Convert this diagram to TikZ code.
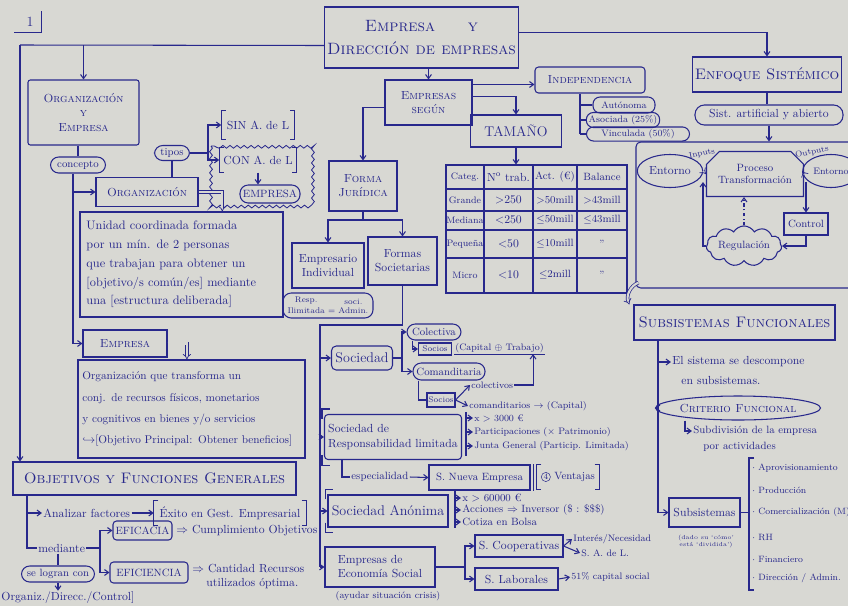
\documentclass[tikz,border=0pt]{standalone}
\usepackage{amsmath,amssymb}
\usepackage{tikz}
\usetikzlibrary{arrows.meta,calc,positioning,shapes.geometric,shapes.misc,shapes.symbols,decorations.pathmorphing}
\usepackage{xcolor}
\definecolor{ink}{RGB}{40,40,140}
\definecolor{paper}{RGB}{216,216,211}

\tikzset{
  caja/.style={draw=ink, text=ink, line width=0.9pt, align=center, inner sep=2pt},
  pill/.style={caja, rounded corners=7pt},
  wh/.style 2 args={minimum width=#1*0.03cm, minimum height=#2*0.03cm},
  nota/.style={text=ink, inner sep=1pt, anchor=west},
  linea/.style={draw=ink, line width=0.9pt},
  flecha/.style={linea, -{Straight Barb[length=3.5pt,width=5pt]}},
  doble/.style={draw=ink, line width=0.6pt, double=paper, double distance=1.8pt, -{Implies}},
}
% square brackets round a node
\newcommand{\corchetes}[1]{%
  \draw[linea] ([xshift=4pt]#1.north west) -- (#1.north west) -- (#1.south west) -- ([xshift=4pt]#1.south west);
  \draw[linea] ([xshift=-4pt]#1.north east) -- (#1.north east) -- (#1.south east) -- ([xshift=-4pt]#1.south east);}
\newcommand{\circulo}[1]{\tikz[baseline=(cc.base)]\node[draw=ink,text=ink,circle,minimum width=0pt,minimum height=0pt,minimum size=0pt,inner sep=0.6pt,font=\scriptsize] (cc) {#1};}

\begin{document}
\begin{tikzpicture}[x=0.03cm, y=-0.03cm]
  \useasboundingbox (0,0) rectangle (848,606);
  \fill[paper] (0,0) rectangle (848,606);
  \clip (0,0) rectangle (848,606);

  % page number
  \node[text=ink, font=\large] (num) at (30,22) {1};
  \draw[linea] ($(num.south west)+(-8,2)$) -| ($(num.north east)+(4,-2)$);

  % title
  \node[caja, wh={187}{61}, font=\fontsize{14}{20}\selectfont\scshape] (titulo) at (421.5,37.5) {Empresa\qquad y\\Dirección de empresas};

  % ---------- left column ----------
  \coordinate (esq) at (20,45);
  \node[caja, rounded corners=2pt, wh={111}{65}, font=\scshape] (orgemp) at (83.5,112.5) {Organización\\y\\Empresa};
  \draw[linea] ($(titulo.west)+(0,8)$) -- (esq);
  \draw[flecha] (orgemp.north |- esq) -- (orgemp.north);

  \node[pill, wh={55}{16}, font=\small] (concepto) at (78,165) {concepto};
  \node[caja, wh={102}{29}, font=\scshape] (organiz) at (147,192) {Organización};
  \node[pill, wh={35}{15}, font=\small] (tipos) at (172,153) {tipos};
  \draw[linea] (orgemp.south -| concepto) -- (concepto.north);
  \draw[linea] (tipos.south) -- (tipos.south |- organiz.north);

  \coordinate (baja) at (73,0);
  \node[caja, wh={84}{27}, font=\scshape] (empresa) at (125,343.5) {Empresa};
  \draw[flecha] (concepto.south -| baja) |- (empresa.west);
  \draw[flecha] (organiz.west -| baja) -- (organiz.west);

  % types of organisation
  \coordinate (rama) at (208,153);
  \node[wh={73}{28}, text=ink] (sin) at (258,125) {SIN A. de L};
  \node[wh={73}{25}, text=ink] (con) at (258,160) {CON A. de L};
  \corchetes{sin}
  \corchetes{con}
  \draw[linea] (tipos.east) -- (rama);
  \draw[flecha] (rama) |- (sin.west);
  \draw[flecha] (rama) |- (con.west);
  \node[pill, wh={60}{18}, font=\small] (empr) at (270,194) {EMPRESA};
  \draw[flecha] (con.south) -- (con.south |- empr.north);
  \draw[ink, line width=0.7pt, decorate, decoration={snake, amplitude=1.2pt, segment length=6pt}] (211,146) rectangle (312,207);

  % definitions
  \node[caja, wh={203}{105}, text width=5.7cm, align=left, font=\fontsize{10.5}{16}\selectfont] (def1) at (181.5,264.5)
    {Unidad coordinada formada\\por un mín. de 2 personas\\que trabajan para obtener un\\{[}objetivo/s común/es] mediante\\una [estructura deliberada]};
  \draw[doble] (organiz.east) -| ($(def1.north west)!0.7!(def1.north east)$);

  \node[caja, wh={227}{98}, text width=6.55cm, align=left, font=\fontsize{9.6}{18}\selectfont] (def2) at (191.5,409)
    {Organización que transforma un\\conj. de recursos físicos, monetarios\\y cognitivos en bienes y/o servicios\\$\hookrightarrow${[}Objetivo Principal: Obtener beneficios]};
  \draw[doble] (empresa.east) -| ($(def2.north west)!0.48!(def2.north east)$);

  % objetivos
  \node[caja, wh={283}{33}, font=\fontsize{13}{15}\selectfont\scshape] (objetivos) at (154.5,478.5) {Objetivos y Funciones Generales};
  \draw[flecha] (esq) -- (esq |- objetivos.north);

  \coordinate (t1) at (27,0);
  \node[nota] (anal) at (42,513) {Analizar factores};
  \node[wh={152}{24}, text=ink] (exito) at (230,513) {Éxito en Gest. Empresarial};
  \corchetes{exito}
  \node[nota] (mediante) at (37,548) {mediante};
  \draw[linea] (objetivos.south -| t1) |- (mediante.west);
  \draw[flecha] (t1 |- anal.west) -- (anal.west);
  \draw[flecha] (anal.east) -- (exito.west);

  \coordinate (f2) at (100,548);
  \node[caja, rounded corners=3pt, wh={59}{19}, font=\small] (eficacia) at (142.5,530.5) {EFICACIA};
  \node[caja, rounded corners=3pt, wh={78}{21}, font=\small] (eficiencia) at (149,572.5) {EFICIENCIA};
  \draw[linea] (mediante.east) -- (f2);
  \draw[flecha] (f2) |- (eficacia.west);
  \draw[flecha] (f2) |- (eficiencia.west);
  \node[nota] (cumpl) at (175,531) {$\Rightarrow$ Cumplimiento Objetivos};
  \node[nota, anchor=north west, align=left] (cantidad) at (191,563) {$\Rightarrow$ Cantidad Recursos\\\hspace{1.2em}utilizados óptima.};

  \node[pill, wh={73}{16}, font=\small] (selogran) at (58,574) {se logran con};
  \node[nota] (orgdc) at (0,598) {Organiz./Direcc./Control]};
  \draw[linea] (mediante.south -| selogran) -- (selogran.north);
  \draw[flecha] (selogran.south) -- (selogran.south |- orgdc.north);

  % ---------- middle column ----------
  \node[caja, wh={87}{45}, font=\scshape] (segun) at (428.5,102.5) {Empresas\\según};
  \draw[flecha] (segun.north |- titulo.south) -- (segun.north);

  \node[caja, rounded corners=3pt, wh={110}{26}, font=\scshape] (indep) at (590,80) {Independencia};
  \coordinate (s1) at ($(segun.north east)+(0,5)$);
  \draw[flecha] (s1) -- (s1 -| indep.west);

  \coordinate (i0) at (580,0);
  \node[pill, rounded corners=6pt, wh={62}{16}, font=\footnotesize] (auto) at (624,105) {Autónoma};
  \node[pill, rounded corners=6pt, wh={72}{15}, font=\footnotesize] (asoc) at (623,120) {Asociada (25\%)};
  \node[pill, rounded corners=6pt, wh={103}{14}, font=\footnotesize] (vinc) at (638,134) {Vinculada (50\%)};
  \draw[linea] (indep.south -| i0) -- (i0 |- vinc.west);
  \foreach \n in {auto,asoc,vinc} { \draw[linea] (i0 |- \n.west) -- (\n.west); }

  \node[caja, wh={91}{32}, font=\large] (tamano) at (516,131) {TAMAÑO};
  \coordinate (s2) at ($(segun.north east)+(0,17)$);
  \draw[flecha] (s2) -| (tamano.north);

  % size table
  \node[caja, wh={181}{128}] (tabla) at (536.5,229) {};
  \draw[flecha] (tamano.south) -- (tamano.south |- tabla.north);
  \foreach \x in {484,533,577} { \draw[linea] (\x,165) -- (\x,293); }
  \foreach \y in {189,211,230,258} { \draw[linea] (446,\y) -- (627,\y); }
  \foreach \y/\a/\b/\c/\d [count=\i] in {
      177/Categ./N\textsuperscript{o} trab./Act. (€)/Balance,
      200/Grande/$>$250/$>$50mill/$>$43mill,
      220/Mediana/$<$250/$\leq$50mill/$\leq$43mill,
      244/Pequeña/$<$50/$\leq$10mill/'',
      275/Micro/$<$10/$\leq$2mill/''} {
    \node[text=ink, font=\footnotesize] (cat\i) at (465,\y) {\a};
    \node[text=ink] (ntr\i) at (508.5,\y) {\b};
    \node[text=ink, font=\small] (act\i) at (555,\y) {\c};
    \node[text=ink, font=\small] (bal\i) at (602,\y) {\d};
  }

  % legal form
  \node[caja, wh={68}{50}, font=\scshape] (forma) at (363,186) {Forma\\Jurídica};
  \draw[flecha] ($(segun.west)+(0,5)$) -| (forma.north);
  \coordinate (f3) at (363,220);
  \node[caja, wh={72}{45}] (empind) at (328,265.5) {Empresario\\Individual};
  \node[caja, wh={69}{48}] (formsoc) at (402.5,261) {Formas\\Societarias};
  \draw[linea] (forma.south) -- (f3);
  \draw[flecha] (f3) -| (empind.north);
  \draw[flecha] (f3) -| (formsoc.north);
  \node[pill, wh={90}{25}, font=\scriptsize] (resp) at (328,305.5) {\shortstack{Resp.\\Ilimitada} = \shortstack{soci.\\Admin.}};

  % forms of company
  \coordinate (t2) at (320,325);
  \node[caja, rounded corners=4pt, wh={61}{24}, font=\large] (sociedad) at (362,358) {Sociedad};
  \node[caja, rounded corners=3pt, wh={137}{45}, align=left] (srl) at (393,437) {Sociedad de\\Responsabilidad limitada};
  \node[caja, wh={120}{32}, font=\large] (sa) at (388,511) {Sociedad Anónima};
  \node[caja, wh={110}{40}, align=left] (ecosoc) at (380,567) {Empresas de\\Economía Social};
  \draw[linea] (formsoc.south) |- (t2) -- (t2 |- ecosoc.west);
  \foreach \n in {sociedad,srl,sa,ecosoc} { \draw[flecha] (t2 |- \n.west) -- (\n.west); }
  \foreach \n in {srl,sa} {
    \draw[linea] ($(\n.north west)+(-2,5)$) |- ($(\n.north west)+(6,-5)$);
    \draw[linea] ($(\n.south west)+(-2,-5)$) |- ($(\n.south west)+(6,5)$);
  }

  % sociedad
  \coordinate (f4) at (402,358);
  \node[pill, wh={54}{16}, font=\small] (colectiva) at (434,332) {Colectiva};
  \node[pill, wh={72}{17}, font=\small] (comand) at (449,371.5) {Comanditaria};
  \draw[linea] (sociedad.east) -- (f4);
  \draw[flecha] (f4) |- (colectiva.west);
  \draw[flecha] (f4) |- (comand.west);
  \node[caja, wh={33}{12}, font=\scriptsize, inner sep=1pt] (socios1) at (435,349) {Socios};
  \draw[flecha] ($(colectiva.south west)+(6,0)$) |- (socios1.west);
  \node[nota, font=\footnotesize] (captrab) at (454,348) {(Capital $\oplus$ Trabajo)};
  \draw[linea] (captrab.south west) -- (captrab.south east);
  \node[caja, wh={28}{14}, font=\scriptsize, inner sep=1pt] (socios2) at (441,400) {Socios};
  \draw[linea] ($(comand.south west)+(6,0)$) |- (socios2.west);
  \node[nota, font=\footnotesize] (colectivos) at (470,385) {colectivos};
  \node[nota, font=\footnotesize] (comanditarios) at (468,406) {comanditarios $\to$ (Capital)};
  \draw[flecha] (socios2.east) -- (colectivos.west);
  \draw[flecha] (socios2.east) -- (comanditarios.west);
  \draw[flecha] (colectivos.east) -| ($(captrab.south east)+(-12,0)$);

  % S.R.L.
  \coordinate (t3) at (466,0);
  \node[nota, font=\footnotesize] (x3000) at (473,418) {x $>$ 3000 €};
  \node[nota, font=\footnotesize] (partic) at (473,432) {Participaciones ($\times$ Patrimonio)};
  \node[nota, font=\footnotesize] (junta) at (473,446) {Junta General (Particip. Limitada)};
  \draw[linea] ($(t3 |- x3000.west)+(0,-6)$) -- ($(t3 |- junta.west)+(0,10)$);
  \foreach \n in {x3000,partic,junta} { \draw[flecha] (t3 |- \n.west) -- (\n.west); }

  \node[nota, font=\small] (espec) at (350,477) {especialidad};
  \node[caja, wh={101}{25}, font=\small] (sne) at (479.5,477.5) {S. Nueva Empresa};
  \draw[linea] ($(sne.north east)+(3,0)$) -- ($(sne.south east)+(3,0)$);
  \draw[linea] ($(srl.south west)+(18,0)$) |- (espec.west);
  \draw[flecha] (espec.east) -- (sne.west);
  \node[wh={62}{24}, text=ink, font=\small] (ventajas) at (568,477) {\circulo{4} Ventajas};
  \corchetes{ventajas}

  % S.A.
  \coordinate (t4) at (455,0);
  \node[nota, font=\small] (x60000) at (461,498) {x $>$ 60000 €};
  \node[nota, font=\small] (acciones) at (461,510) {Acciones $\Rightarrow$ Inversor (\$ : \$\$\$)};
  \node[nota, font=\small] (bolsa) at (461,522) {Cotiza en Bolsa};
  \draw[linea] ($(t4 |- x60000.west)+(0,-7)$) -- ($(t4 |- bolsa.west)+(0,6)$);
  \foreach \n in {x60000,acciones,bolsa} { \draw[flecha] (t4 |- \n.west) -- (\n.west); }

  % economia social
  \node[text=ink, font=\footnotesize] (crisis) at (388,596) {(ayudar situación crisis)};
  \coordinate (f5) at (465,567);
  \node[caja, wh={88}{22}] (scoop) at (519,546) {S. Cooperativas};
  \node[caja, wh={83}{22}] (slab) at (516.5,579) {S. Laborales};
  \draw[linea] (ecosoc.east) -- (f5);
  \draw[flecha] (f5) |- (scoop.west);
  \draw[flecha] (f5) |- (slab.west);
  \node[nota, font=\footnotesize] (interes) at (572,539) {Interés/Necesidad};
  \node[nota, font=\footnotesize] (sadel) at (580,553) {S. A. de L.};
  \draw[flecha] (scoop.east) -- (interes.west);
  \draw[flecha] (scoop.east) -- (sadel.west);
  \node[nota, font=\footnotesize] (capsoc) at (570,577) {51\% capital social};
  \draw[flecha] (slab.east) -- (capsoc.west);

  % ---------- right column ----------
  \node[caja, wh={145}{35}, font=\fontsize{13}{15}\selectfont\scshape] (enfoque) at (767,74.5) {Enfoque Sistémico};
  \draw[flecha] ($(titulo.east)+(0,-5)$) -| (enfoque.north);
  \node[pill, rounded corners=8pt, wh={148}{20}] (artif) at (769,115) {Sist. artificial y abierto};
  \draw[linea] (enfoque.south) -- (enfoque.south |- artif.north);
  \node[draw=ink, line width=0.9pt, rounded corners=4pt, wh={232}{146}] (sistema) at (752,215) {};
  \draw[flecha] (artif.south) -- (artif.south |- sistema.north);

  \node[caja, ellipse, wh={64}{33}] (ent1) at (670,171) {Entorno};
  \node[caja, chamfered rectangle, chamfered rectangle corners={north west,north east}, chamfered rectangle xsep=8pt, wh={80}{45}, font=\small] (proceso) at (755,174) {Proceso\\Transformación};
  \node[caja, ellipse, wh={56}{33}, font=\footnotesize] (ent2) at (831,171) {Entorno};
  \node[text=ink, font=\scriptsize, rotate=12] (inputs) at (702,154) {Inputs};
  \node[text=ink, font=\scriptsize, rotate=12] (outputs) at (812,152) {Outputs};
  \draw[doble] (ent1.east) -- (proceso.west);
  \draw[doble] (proceso.east) -- (ent2.west);
  \node[caja, wh={44}{22}, font=\small] (control) at (806,224) {Control};
  \node[caja, cloud, cloud puffs=11, cloud puff arc=120, aspect=2.5, wh={64}{26}, inner sep=0pt, font=\small] (regul) at (744,246) {Regulación};
  \coordinate (o1) at (806,182);
  \coordinate (o2) at (703,182);
  \draw[flecha] (o1) -- (control.north);
  \draw[flecha] (control.south) |- (regul.east);
  \draw[flecha, dash dot] (regul.north) -- (regul.north |- proceso.south);
  \draw[flecha] (regul.west) -| (o2);

  % functional subsystems
  \node[caja, wh={201}{35}, font=\fontsize{13}{15}\selectfont\scshape] (subf) at (734.5,322.5) {Subsistemas Funcionales};
  \draw[doble] ($(sistema.south west)+(3,-6)$) to[bend right=45] ($(subf.north west)+(-4,0)$);
  \coordinate (t5) at (658,0);
  \node[nota] (descomp) at (671,362) {El sistema se descompone};
  \node[nota] (descomp2) at (680,380) {en subsistemas.};
  \node[caja, ellipse, wh={136}{24}, inner sep=0pt, font=\scshape] (criterio) at (738,408) {Criterio Funcional};
  \node[nota, font=\small] (subdiv) at (692,431) {Subdivisión de la empresa};
  \node[nota, font=\small] (activ) at (702,447) {por actividades};
  \draw[flecha] ($(criterio.south)+(-53,0)$) |- (subdiv.west);
  \node[caja, wh={71}{29}] (subsis) at (704.5,512.5) {Subsistemas};
  \node[text=ink, font=\tiny, align=center] (dado) at (706,542) {(dado su `cómo'\\está `dividida')};
  \draw[flecha] (subf.south -| t5) |- (subsis.west);
  \foreach \n in {descomp,criterio} { \draw[flecha] (t5 |- \n.west) -- (\n.west); }

  \coordinate (b1) at (749,458);
  \coordinate (b2) at (749,590);
  \draw[linea] ($(b1)+(5,0)$) -- (b1) -- (b2) -- ($(b2)+(5,0)$);
  \draw[linea] (subsis.east) -- (subsis.east -| b1);
  \foreach \y/\t [count=\i] in {468/Aprovisionamiento, 490/Producción, 512/Comercialización (M),
      537/RH, 559/Financiero, 578/{Dirección / Admin.}} {
    \node[nota, font=\fontsize{7.8}{9}\selectfont] (area\i) at (751,\y) {$\cdot$ \t};
  }
\end{tikzpicture}
\end{document}
